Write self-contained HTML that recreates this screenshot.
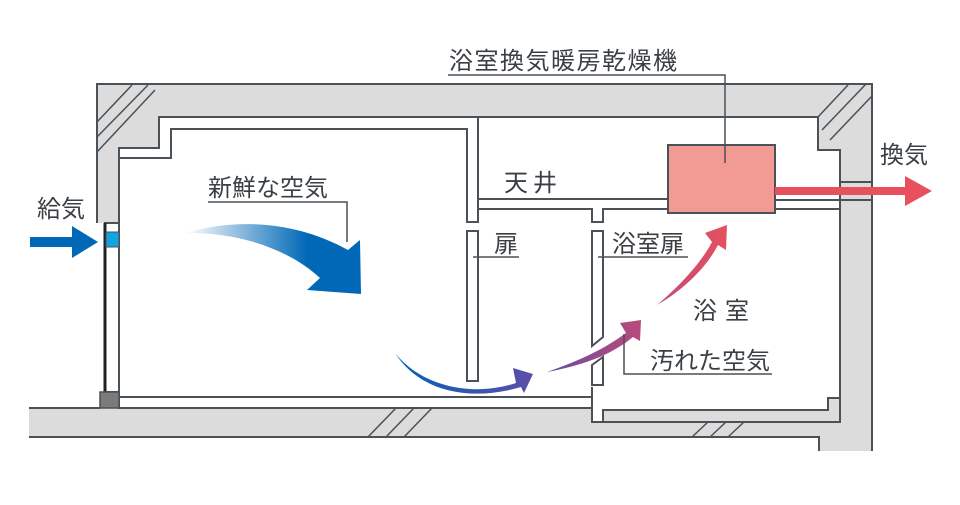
<!DOCTYPE html>
<html><head><meta charset="utf-8"><style>
body{margin:0;background:#fff}
svg text{font-family:"Liberation Sans","Noto Sans CJK JP",sans-serif;fill:#3a3f44}
</style></head><body>
<svg width="960" height="500" viewBox="0 0 960 500" xmlns="http://www.w3.org/2000/svg">
<defs>
<linearGradient id="gb" x1="185" y1="0" x2="360" y2="0" gradientUnits="userSpaceOnUse">
<stop offset="0" stop-color="#0068b7" stop-opacity="0"/><stop offset="0.7" stop-color="#0068b7"/><stop offset="1" stop-color="#0068b7"/></linearGradient>
<linearGradient id="ga" x1="395" y1="0" x2="730" y2="0" gradientUnits="userSpaceOnUse">
<stop offset="0" stop-color="#0063b5"/><stop offset="0.4" stop-color="#5b4ea8"/><stop offset="0.7" stop-color="#b04a80"/><stop offset="1" stop-color="#e8505e"/></linearGradient>
</defs>
<!-- gray fill -->
<path d="M97,84 H872 V451 H819 V437 H29 V408 H100 V392 H105 V223 H97 Z" fill="#dcdcdc"/>
<g fill="none" stroke="#4a5157" stroke-width="2">
<path d="M97,223 V84 H872 V451"/>
<path d="M29,437 H819 V451"/>
<path d="M29,408 H100"/>
</g>
<!-- white interior -->
<path d="M119,148 H159 V117 H818 V150 H840 V398 H828 V410 H603 V422 H592 V408 H119 Z" fill="#fff" stroke="#4a5157" stroke-width="2"/>
<path d="M592,422 H840 V398" fill="none" stroke="#4a5157" stroke-width="2"/>
<g fill="none" stroke="#4a5157" stroke-width="2">
<path d="M120,158 H171 V129 H467 V222 H478 V117"/>
<path d="M119,397 H592 V408"/>
<path d="M478,199 H668 M478,209 V222 M478,209 H592 V222 H603 V209 H840"/>
<path d="M775,200 H840 M840,182 H872 M840,200 H872"/>
<rect x="467" y="231" width="11" height="150" fill="#fff"/>
<path d="M592,231 H603 V337 L592,346 Z" fill="#fff"/>
<path d="M592,365 L603,357 V385 H592 Z" fill="#fff"/>
<path d="M592,397 V387"/>
</g>
<!-- window -->
<rect x="105" y="223" width="14" height="169" fill="#fff" stroke="#4a5157" stroke-width="2"/>
<line x1="105" y1="223" x2="105" y2="392" stroke="#222" stroke-width="3"/>
<rect x="106" y="232" width="13" height="15" fill="#12a3e0" stroke="#4a5157" stroke-width="1"/>
<rect x="100" y="392" width="19" height="16" fill="#7b7b7b" stroke="#4a5157" stroke-width="1.5"/>
<!-- hatches -->
<g stroke="#4a5157" stroke-width="1.5">
<line x1="97" y1="122" x2="132" y2="85"/><line x1="97" y1="137" x2="148" y2="85"/><line x1="97" y1="152" x2="155" y2="90"/>
<line x1="368" y1="437" x2="396" y2="408"/><line x1="386" y1="437" x2="414" y2="408"/><line x1="404" y1="437" x2="432" y2="408"/>
<line x1="692" y1="437" x2="708" y2="422"/><line x1="710" y1="437" x2="726" y2="422"/><line x1="728" y1="437" x2="744" y2="422"/>
<line x1="818" y1="117" x2="848" y2="85"/><line x1="822" y1="130" x2="866" y2="84"/><line x1="830" y1="140" x2="872" y2="96"/>
</g>
<!-- heater -->
<rect x="668" y="145" width="107" height="68" fill="#f29a94" stroke="#4a5157" stroke-width="2"/>
<!-- red exhaust arrow -->
<rect x="775" y="187" width="132" height="8" fill="#e9505e"/>
<polygon points="905,176 932,191 905,206" fill="#e9505e"/>
<!-- blue intake arrow -->
<rect x="30" y="237" width="44" height="10" fill="#0068b7"/>
<polygon points="72,226 98,242 72,258" fill="#0068b7"/>
<!-- big arrow -->
<path d="M185,233 C230,220 290,218 348,250 L360,240 L361,294 L307,290 L320,278 C290,250 240,232 185,233 Z" fill="url(#gb)"/>
<!-- small arrows -->
<path d="M395,353 C420,385 470,398 516,383 L513,368 L533,374 L524,393 L521,387 C470,402 420,392 395,353 Z" fill="url(#ga)"/>
<path d="M547,372 C575,362 600,352 626,333 L620,323 L641,320 L640,341 L633,337 C610,356 580,366 547,372 Z" fill="url(#ga)"/>
<path d="M657,305 C675,290 700,265 712,242 L705,233 L727,225 L726,250 L718,245 C705,270 680,292 657,305 Z" fill="url(#ga)"/>
<!-- leader lines -->
<g fill="none" stroke="#4a5157" stroke-width="1.5">
<path d="M448,75 H725 V163"/>
<path d="M208,202 H347 V242"/>
<path d="M473,257 H519"/>
<path d="M598,257 H688"/>
<path d="M624,334 V374 H772"/>
</g>
<!-- labels -->
<g font-size="24">
<text x="449" y="69" letter-spacing="1.5">浴室換気暖房乾燥機</text>
<text x="37" y="217">給気</text>
<text x="880" y="163">換気</text>
<text x="208" y="196">新鮮な空気</text>
<text x="504" y="191" letter-spacing="5">天井</text>
<text x="494" y="252">扉</text>
<text x="612" y="252">浴室扉</text>
<text x="693" y="319" letter-spacing="8">浴室</text>
<text x="650" y="369">汚れた空気</text>
</g>
</svg>
</body></html>
